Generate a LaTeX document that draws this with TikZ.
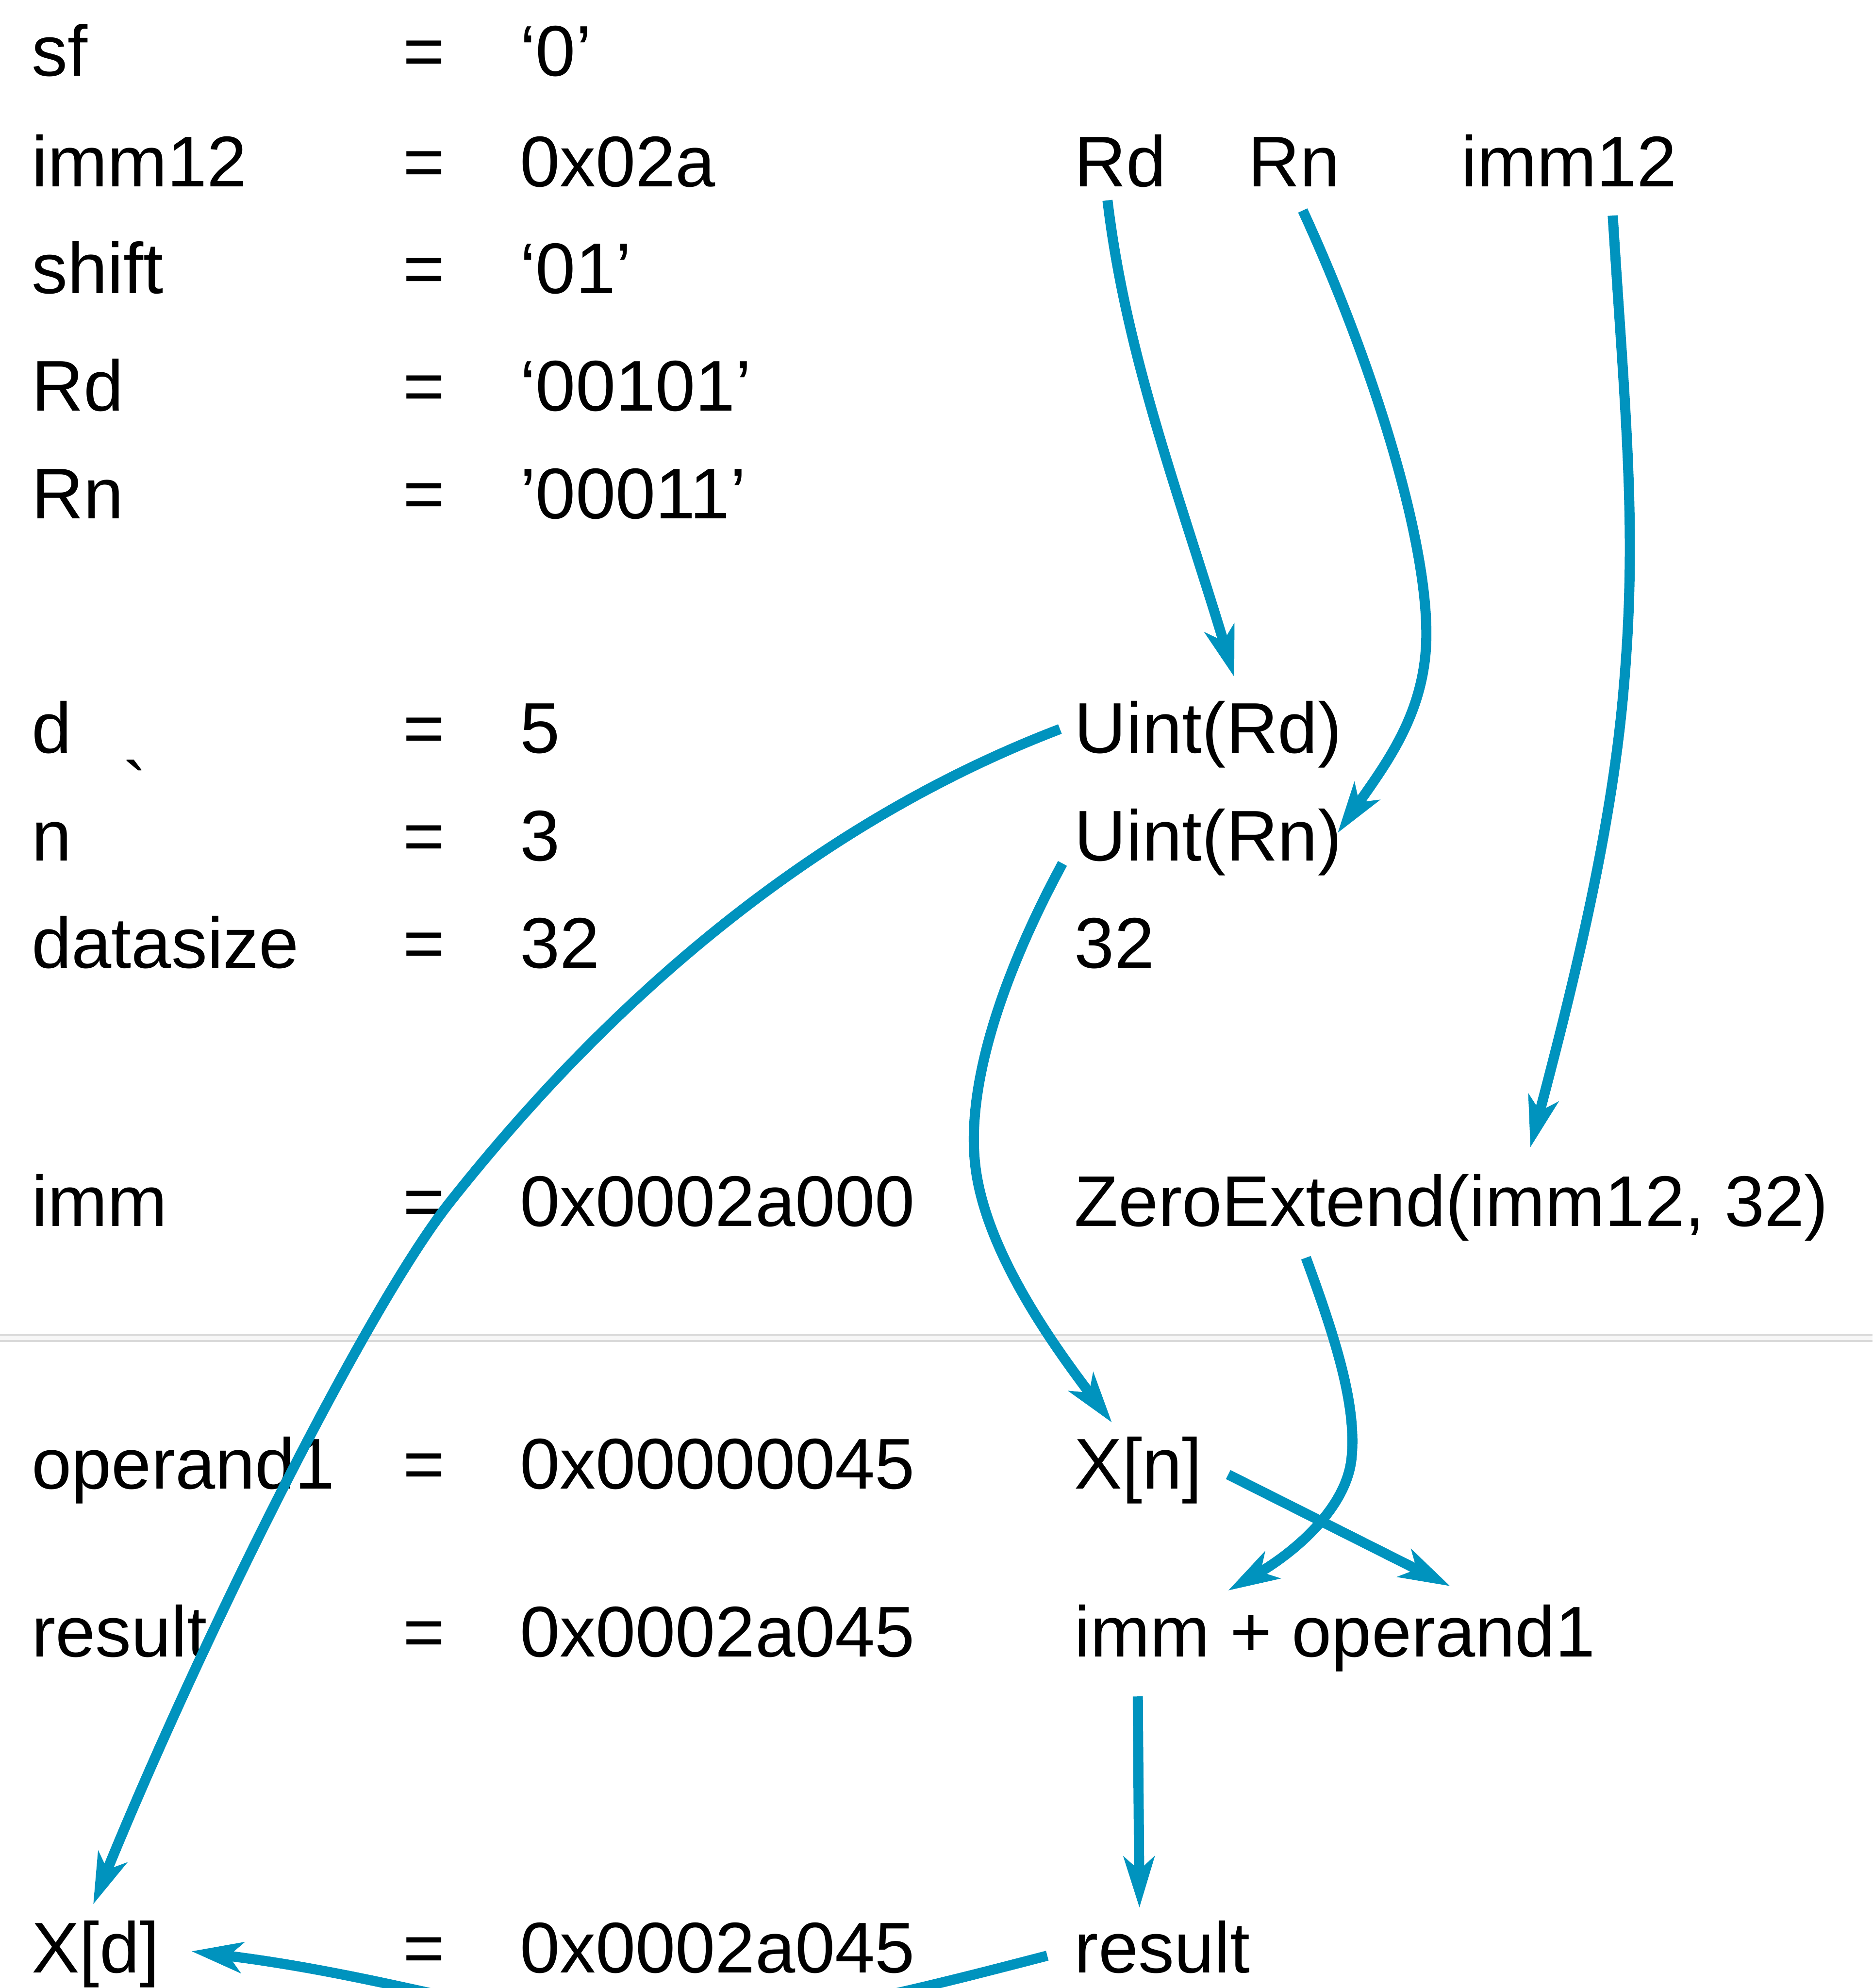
\documentclass[tikz,border=0pt]{standalone}
\usepackage{fontspec}
\setmainfont{Liberation Sans}
\usetikzlibrary{arrows.meta}
\definecolor{arrowblue}{RGB}{0,147,190}
\definecolor{sepgray}{RGB}{217,217,217}
\definecolor{sepfill}{RGB}{247,247,247}
\font\gravefont="Liberation Sans" at 16.1pt
\begin{document}
\begin{tikzpicture}[x=0.01cm,y=-0.01cm,
  txt/.style={anchor=base west,inner sep=0pt,outer sep=0pt,font=\fontsize{16.1pt}{19pt}\selectfont},
  flow/.style={draw=arrowblue,line width=0.08cm,-{Stealth[length=0.4cm,width=0.24cm,inset=0.105cm]}},
  sepline/.style={draw=sepgray,line width=0.014cm}]
\useasboundingbox (0,0) rectangle (1477,1568);
\clip (0,0) rectangle (1477,1568);
% separator
\fill[sepfill] (0,1053) rectangle (1477,1058);
\draw[sepline] (0,1052.7) -- (1477,1052.7);
\draw[sepline] (0,1057.8) -- (1477,1057.8);
% left column
\node[txt] (sfL) at (25,60) {sf};
\node[txt] (sfE) at (318,60) {=};
\node[txt] (sfV) at (410,60) {‘0’};
\node[txt] (immL) at (25,147) {imm12};
\node[txt] (immE) at (318,147) {=};
\node[txt] (immV) at (410,147) {0x02a};
\node[txt] (shL) at (25,231.5) {shift};
\node[txt] (shE) at (318,231.5) {=};
\node[txt] (shV) at (410,231.5) {‘01’};
\node[txt] (rdL) at (25,324) {Rd};
\node[txt] (rdE) at (318,324) {=};
\node[txt] (rdV) at (410,324) {‘00101’};
\node[txt] (rnL) at (25,409) {Rn};
\node[txt] (rnE) at (318,409) {=};
\node[txt] (rnV) at (410,409) {’00011’};
\node[txt] (dL) at (25,594) {d};
\node[txt] (tick) at (97,641) {\gravefont `};
\node[txt] (dE) at (318,594) {=};
\node[txt] (dV) at (410,594) {5};
\node[txt] (nL) at (25,679) {n};
\node[txt] (nE) at (318,679) {=};
\node[txt] (nV) at (410,679) {3};
\node[txt] (dsL) at (25,763.5) {datasize};
\node[txt] (dsE) at (318,763.5) {=};
\node[txt] (dsV) at (410,763.5) {32};
\node[txt] (imL) at (25,967) {imm};
\node[txt] (imE) at (318,967) {=};
\node[txt] (imV) at (410,967) {0x0002a000};
\node[txt] (opL) at (25,1174.3) {operand1};
\node[txt] (opE) at (318,1174.3) {=};
\node[txt] (opV) at (410,1174.3) {0x00000045};
\node[txt] (reL) at (25,1306.7) {result};
\node[txt] (reE) at (318,1306.7) {=};
\node[txt] (reV) at (410,1306.7) {0x0002a045};
\node[txt] (xd) at (25,1556) {X[d]};
\node[txt] (xdE) at (318,1556) {=};
\node[txt] (xdV) at (410,1556) {0x0002a045};
% right column
\node[txt] (rdT) at (847.5,147) {Rd};
\node[txt] (rnT) at (984.5,147) {Rn};
\node[txt] (immT) at (1152.5,147) {imm12};
\node[txt] (uintRd) at (847.5,594) {Uint(Rd)};
\node[txt] (uintRn) at (847.5,679) {Uint(Rn)};
\node[txt] (dsR) at (847.5,763.5) {32};
\node[txt] (zext) at (847.5,967) {ZeroExtend(imm12, 32)};
\node[txt] (xn) at (847.5,1174.3) {X[n]};
\node[txt] (sum) at (847.5,1306.7) {imm + operand1};
\node[txt] (resR) at (847.5,1556) {result};
% connectors
\draw[flow] ([shift={(26,11)}]rdT.base west) .. controls (888,280) and (930,390) .. ([shift={(126,-60)}]uintRd.base west);
\draw[flow] ([shift={(43,19)}]rnT.base west) .. controls (1080,280) and (1125,420) .. (1125,500) .. controls (1125,560) and (1095,600) .. ([shift={(207.5,-22)}]uintRn.base west);
\draw[flow] ([shift={(119.5,23)}]immT.base west) .. controls (1282,330) and (1292,420) .. (1280,550) .. controls (1270,660) and (1240,780) .. ([shift={(359.5,-62)}]zext.base west);
\draw[flow] ([shift={(-11.5,-19)}]uintRd.base west) .. controls (640,650) and (480,790) .. (355,948) .. controls (290,1030) and (160,1290) .. ([shift={(48.5,-54)}]xd.base west);
\draw[flow] ([shift={(-9.5,2)}]uintRn.base west) .. controls (790,770) and (760,860) .. (770,925) .. controls (780,990) and (830,1060) .. ([shift={(29.5,-52.3)}]xn.base west);
\draw[flow] ([shift={(182.5,25)}]zext.base west) .. controls (1055,1060) and (1070,1110) .. (1066,1150) .. controls (1062,1190) and (1020,1225) .. ([shift={(121.1,-52.2)}]sum.base west);
\draw[flow] ([shift={(121.2,-11.3)}]xn.base west) -- ([shift={(296.3,-55.7)}]sum.base west);
\draw[flow] ([shift={(49.9,31.3)}]sum.base west) -- ([shift={(51.2,-51.3)}]resR.base west);
\draw[flow] ([shift={(-21.5,-13.5)}]resR.base west) .. controls (720,1570) and (620,1596) .. (520,1598) .. controls (420,1600) and (320,1560) .. ([shift={(126,-17)}]xd.base west);
\end{tikzpicture}
\end{document}
